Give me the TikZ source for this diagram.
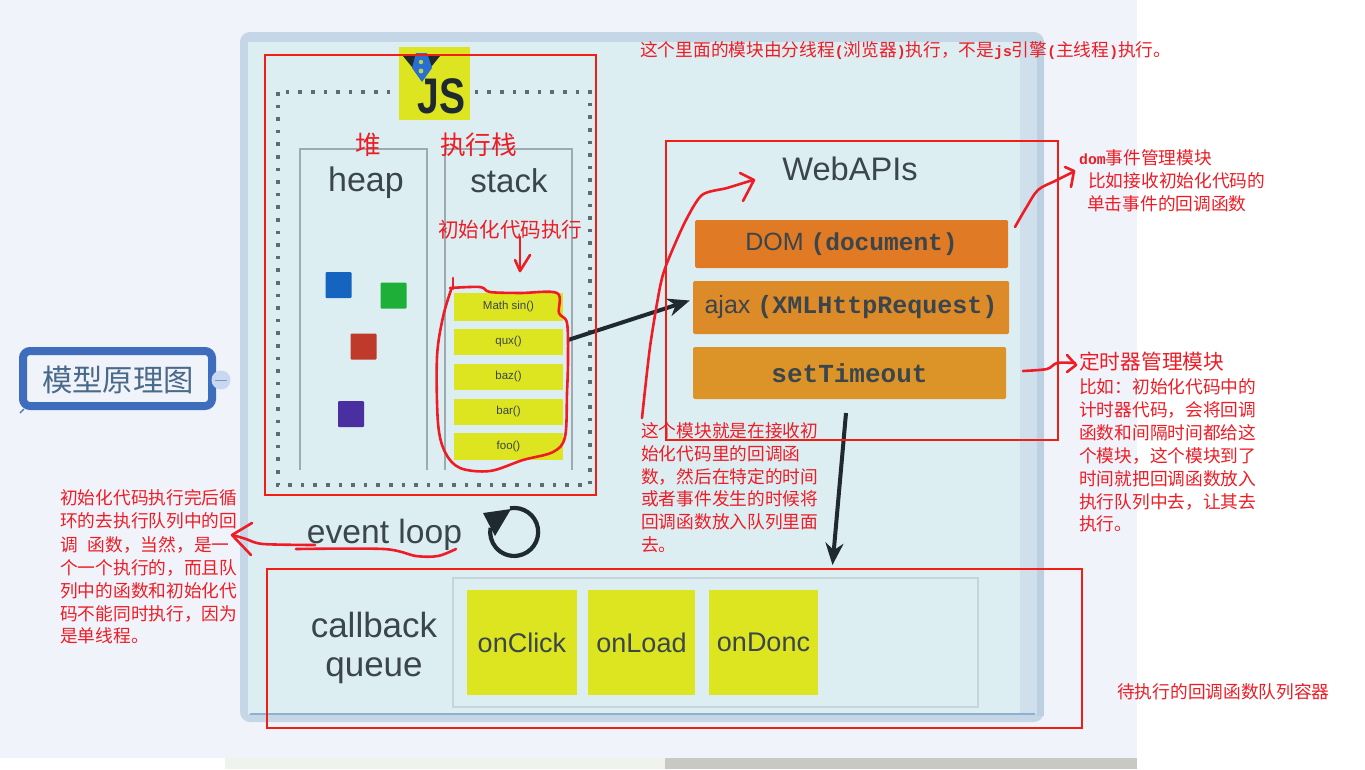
\documentclass[tikz,border=0pt]{standalone}
\usepackage{fontspec}
\usetikzlibrary{arrows.meta}
\setmainfont{Liberation Sans}
\setmonofont{Liberation Mono}
\newfontfamily\cjk{Noto Sans CJK SC}
\newcommand{\fsz}[1]{\fontsize{#1}{#1}\selectfont}
\newcommand{\lat}[1]{{\ttfamily\bfseries\fsz{14.75}#1}}
\newcommand{\fwcomma}{\char"FF0C\relax}
\newcommand{\fwcolon}{\char"FF1A\relax}
\definecolor{pagebg}{HTML}{F1F3FA}
\definecolor{stripl}{HTML}{F0F2EE}
\definecolor{stripd}{HTML}{C8C8C4}
\definecolor{panelout}{HTML}{C5D7E6}
\definecolor{panelin}{HTML}{DDEEF3}
\definecolor{panelstrip}{HTML}{CFE0EC}
\definecolor{panelrim}{HTML}{BDD0E2}
\definecolor{panelline}{HTML}{8FB0CF}
\definecolor{redline}{HTML}{F01E14}
\definecolor{ink}{HTML}{EE1C25}
\definecolor{jsy}{HTML}{DDE520}
\definecolor{dark}{HTML}{1E2A30}
\definecolor{gtxt}{HTML}{3A454C}
\definecolor{boxl}{HTML}{9DAAB0}
\definecolor{cbline}{HTML}{C6D4DB}
\definecolor{dotl}{HTML}{5E6C72}
\definecolor{mapblue}{HTML}{3F6DBE}
\definecolor{maptxt}{HTML}{4A6A8A}
\definecolor{mapdot}{HTML}{C9D8F2}
\definecolor{orgA}{HTML}{E07A24}
\definecolor{orgB}{HTML}{DD8A28}
\definecolor{orgC}{HTML}{DC9428}
\definecolor{sqblue}{HTML}{1565C0}
\definecolor{sqgreen}{HTML}{1DAF38}
\definecolor{sqred}{HTML}{BF3A2B}
\definecolor{sqpurple}{HTML}{4A2FA0}
\definecolor{shieldb}{HTML}{2A6FD0}
\definecolor{shieldg}{HTML}{B5D84A}
\tikzset{
  redbox/.style={draw=redline,line width=2.4pt},
  note/.style={anchor=west,inner sep=0pt,text=ink,font=\cjk\fsz{17.7},text height=15.5pt,text depth=2.1pt},
  bignote/.style={note,font=\cjk\fsz{25.7},text height=21pt,text depth=4.5pt},
  midnote/.style={note,font=\cjk\fsz{20.7},text height=18pt,text depth=2.2pt},
  big/.style={inner sep=0pt,text=gtxt},
  item/.style={fill=jsy,inner sep=0pt,minimum width=109pt,text=gtxt,font=\fsz{11.5}},
  sq/.style={inner sep=0pt,minimum size=26pt,rounded corners=1pt},
  org/.style={inner sep=0pt,rounded corners=1.5pt,text=gtxt,font=\fsz{25}},
  cb/.style={fill=jsy,inner sep=0pt,minimum height=105pt,text=gtxt,font=\fsz{27}},
  hand/.style={draw=ink,line width=2.6pt,line cap=round,line join=round},
  blackarrow/.style={draw=dark,line width=4pt,-{Stealth[length=22pt,width=18pt]}},
  column/.style={draw=boxl,line width=1.6pt}
}
\begin{document}
\begin{tikzpicture}[x=1pt,y=-1pt]
\useasboundingbox (0,0) rectangle (1365,769);
% page
\fill[white] (0,0) rectangle (1365,769);
\fill[pagebg] (0,0) rectangle (1137,758);
\fill[stripl] (225,758) rectangle (665,769);
\fill[stripd] (665,758) rectangle (1137,769);
% panel
\fill[panelout,rounded corners=10pt] (240,32) rectangle (1044,722);
\fill[panelin] (248,42) rectangle (1020,714);
\fill[panelstrip] (1020,42) rectangle (1037,714);
\fill[panelrim] (1037,40) rectangle (1044,716);
\draw[panelline,line width=1.5pt] (250,714) -- (1035,714);
% mind-map node
\draw[mapblue,line width=8pt,rounded corners=7pt] (23,351) rectangle (212,406);
\node[inner sep=0pt,text=maptxt,font=\cjk\fsz{30.4}] (maptitle) at (118,380) {模型原理图};
\draw[mapblue,line width=1.2pt] (24,409) -- (20,413);
\node[circle,fill=mapdot,minimum size=19pt,inner sep=0pt] (mapdotn) at (221,380) {};
\draw[maptxt!70,line width=1pt] (215,380) -- (227,380);
% dotted frame
\draw[dotl,line width=3.6pt,dash pattern=on 3.6pt off 9pt] (278,92) rectangle (590,485);
% JS logo
\node[fill=jsy,minimum width=71pt,minimum height=73pt,inner sep=0pt] (jslogo) at (434.5,83.5) {};
\node[inner sep=0pt,text=dark,font=\bfseries\fsz{50},xscale=.78] (jstext) at (441.5,96) {JS};
\fill[dark] (403,56) -- (440,56) -- (427,72) -- (416,72) -- cycle;
\fill[shieldb] (416,53) -- (427,53) -- (432,68) -- (422,82) -- (412,68) -- cycle;
\fill[shieldg] (421,62) circle (2.2pt) (421,71) circle (2.4pt);
% heap and stack columns
\draw[column] (300,470) -- (300,149) -- (427,149) -- (427,470);
\draw[column] (445,470) -- (445,149) -- (572,149) -- (572,470);
\node[big,font=\fsz{34}] (heap) at (366,183) {heap};
\node[big,font=\fsz{33}] (stack) at (509,181) {stack};
\node[sq,fill=sqblue] (sqa) at (338.5,285) {};
\node[sq,fill=sqgreen] (sqb) at (393.5,295.5) {};
\node[sq,fill=sqred] (sqc) at (363.5,346.5) {};
\node[sq,fill=sqpurple] (sqd) at (351,414) {};
\node[item,minimum height=28pt] (math) at (508.5,307) {Math sin()};
\node[item,minimum height=26pt] (qux) at (508.5,342) {qux()};
\node[item,minimum height=26pt] (baz) at (508.5,377) {baz()};
\node[item,minimum height=26pt] (bar) at (508.5,412) {bar()};
\node[item,minimum height=27pt] (foo) at (508.5,446.5) {foo()};
% event loop
\node[big,font=\fsz{33.6}] (evloop) at (384.5,535) {event loop};
\draw[dark,line width=4.2pt] (510,508.3) arc[start angle=100,end angle=-190,radius=24pt];
\fill[dark] (483,513) -- (511,509) -- (495,536) -- cycle;
% WebAPIs
\node[big,font=\fsz{32.6}] (webapis) at (850,169) {WebAPIs};
\node[org,fill=orgA,minimum width=313pt,minimum height=48pt] (dom) at (851.5,244) {\raisebox{-3pt}{DOM {\ttfamily\bfseries\fsz{24.5}(document)}}};
\node[org,fill=orgB,minimum width=316pt,minimum height=53pt] (ajax) at (851,307.5) {\raisebox{-2pt}{ajax {\ttfamily\bfseries\fsz{25}(XMLHttpRequest)}}};
\node[org,fill=orgC,minimum width=313pt,minimum height=52pt,font=\fsz{26}] (settimeout) at (849.5,373) {\ttfamily\bfseries setTimeout};
% callback queue
\draw[draw=cbline,line width=1.4pt,fill=panelin] (453,578) rectangle (978,707);
\node[big,font=\fsz{35}] (callback) at (374,625) {callback};
\node[big,font=\fsz{35}] (queue) at (374,671) {queue};
\node[cb,minimum width=110pt] (onclick) at (522,642.5) {onClick};
\node[cb,minimum width=107pt] (onload) at (641.5,642.5) {onLoad};
\node[cb,minimum width=109pt] (ondone) at (763.5,642.5) {onDonc};
% black arrows
\coordinate (stackout) at (568,340);
\coordinate (queuetop) at (832.5,565);
\coordinate (timeoutdown) at (846,413);
\draw[blackarrow] (stackout) -- ([shift={(-3,-7)}]ajax.west);
\draw[blackarrow] (timeoutdown) -- (queuetop);
% red frames
\node[redbox,inner sep=0pt,minimum width=331pt,minimum height=440pt] (jsframe) at (430.5,275) {};
\node[redbox,inner sep=0pt,minimum width=392pt,minimum height=299pt] (apiframe) at (862,290.5) {};
\node[redbox,inner sep=0pt,minimum width=815pt,minimum height=159pt] (queueframe) at (674.5,648.5) {};
% hand-drawn strokes
\draw[hand] plot[smooth,tension=.55] coordinates {(453,278) (453,289)};
\draw[hand] plot[smooth,tension=.55] coordinates {(450,288) (480,287) (490,292) (520,293) (557,293) (559,313) (567,323) (568,360) (567,393) (565,437) (553,452) (523,460) (490,471) (460,468) (445,452) (438,423) (437,357) (443,317) (451,290)};
\draw[hand] (520,237) -- (520,271);
\draw[hand] (515,260) -- (520,271) -- (530,255);
\draw[hand] plot[smooth,tension=.45] coordinates {(642,418) (650,347) (660,287) (667,263) (685,222) (702,195) (727,188) (753,180)};
\draw[hand] (740,173) -- (754,180) -- (743,201);
\draw[hand] plot[smooth,tension=.55] coordinates {(1015,227) (1026,208) (1038,190) (1055,181) (1073,172)};
\draw[hand] (1065,167) -- (1074,171) -- (1071,187);
\draw[hand] plot[smooth,tension=.5] coordinates {(1023,371) (1047,369) (1057,363) (1075,363)};
\draw[hand] (1067,355) -- (1076,365) -- (1067,372);
\draw[hand] plot[smooth,tension=.5] coordinates {(296,549) (384,549) (416,556) (438,556) (456,549)};
\draw[hand] plot[smooth,tension=.5] coordinates {(315,545) (263,544) (246,539) (233,535)};
\draw[hand] (252,523) -- (232,535) -- (251,555);
% red texts
\node[note] (topnote) at (640,50) {这个里面的模块由分线程\lat{(}浏览器\lat{)}执行\fwcomma 不是\lat{js}引擎\lat{(}主线程\lat{)}执行。};
\node[bignote] (dui) at (355,146) {堆};
\node[bignote] (zxz) at (440,146) {执行栈};
\node[midnote,font=\cjk\fsz{20.6}] (cshzx) at (438,230) {初始化代码执行};
\node[note] (doma) at (1079,158) {\lat{dom}事件管理模块};
\node[note] (domb) at (1088,181) {比如接收初始化代码的};
\node[note] (domc) at (1087,204) {单击事件的回调函数};
\node[midnote] (tima) at (1079,362) {定时器管理模块};
\node[note] (timb) at (1079,387) {比如\fwcolon 初始化代码中的};
\node[note] (timc) at (1079,410) {计时器代码\fwcomma 会将回调};
\node[note] (timd) at (1079,433) {函数和间隔时间都给这};
\node[note] (time) at (1079,456) {个模块\fwcomma 这个模块到了};
\node[note] (timf) at (1079,479) {时间就把回调函数放入};
\node[note] (timg) at (1079,502) {执行队列中去\fwcomma 让其去};
\node[note] (timh) at (1079,524) {执行。};
\node[note] (mida) at (641,431) {这个模块就是在接收初};
\node[note] (midb) at (641,454) {始化代码里的回调函};
\node[note] (midc) at (641,477) {数\fwcomma 然后在特定的时间};
\node[note] (midd) at (641,499) {或者事件发生的时候将};
\node[note] (mide) at (641,522) {回调函数放入队列里面};
\node[note] (midf) at (641,545) {去。};
\node[note] (lefa) at (60,498) {初始化代码执行完后循};
\node[note] (lefb) at (60,521) {环的去执行队列中的回};
\node[note] (lefc) at (60,545) {调\hspace{10pt}函数\fwcomma 当然\fwcomma 是一};
\node[note] (lefd) at (60,568) {个一个执行的\fwcomma 而且队};
\node[note] (lefe) at (60,591) {列中的函数和初始化代};
\node[note] (leff) at (60,614) {码不能同时执行\fwcomma 因为};
\node[note] (lefg) at (60,636) {是单线程。};
\node[note] (quenote) at (1117,692) {待执行的回调函数队列容器};
\end{tikzpicture}
\end{document}
